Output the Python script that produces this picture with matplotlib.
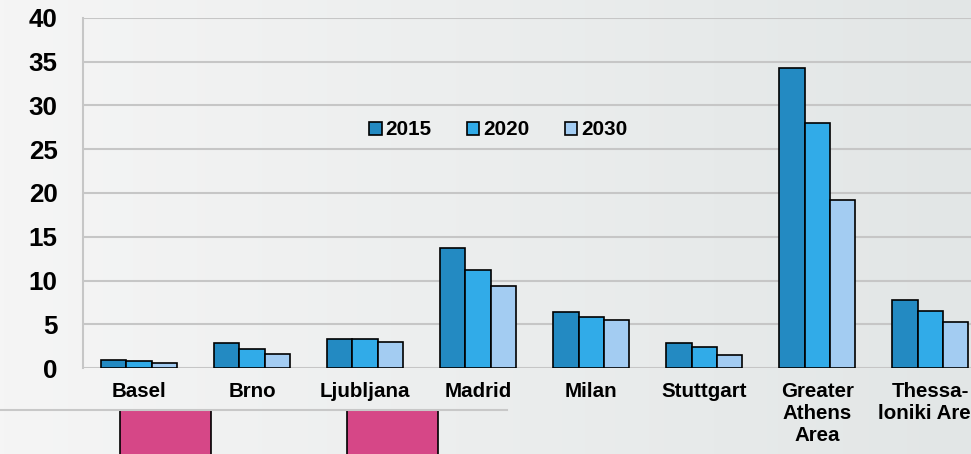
import numpy as np
import matplotlib
matplotlib.use('Agg')
import matplotlib.pyplot as plt
from matplotlib.patches import Patch, Rectangle
from matplotlib.lines import Line2D

plt.rcParams['font.family'] = ['Liberation Sans', 'DejaVu Sans']
plt.rcParams['font.weight'] = 'bold'

# data
cities = ['Basel', 'Brno', 'Ljubljana', 'Madrid', 'Milan', 'Stuttgart',
          'Greater\nAthens\nArea', 'Thessa-\nloniki Area']
years = ['2015', '2020', '2030']
v2015 = [0.9, 2.9, 3.35, 13.7, 6.4, 2.9, 34.3, 7.8]
v2020 = [0.85, 2.25, 3.3, 11.2, 5.8, 2.45, 28.0, 6.5]
v2030 = [0.65, 1.6, 3.05, 9.35, 5.55, 1.55, 19.2, 5.25]
y_ticks = [0, 5, 10, 15, 20, 25, 30, 35, 40]

colors = ['#238ac2', '#31abe8', '#a3ccf2']

fig = plt.figure(figsize=(9.71, 4.54), dpi=100)

# slide background gradient
bg = fig.add_axes([0, 0, 1, 1], zorder=-10)
grad = np.linspace(0, 1, 256).reshape(1, -1)
c0 = np.array([0xf5, 0xf5, 0xf5]) / 255
c1 = np.array([0xe2, 0xe6, 0xe6]) / 255
img = c0[None, None, :] * (1 - grad[..., None]) + c1[None, None, :] * grad[..., None]
bg.imshow(img, aspect='auto', extent=[0, 1, 0, 1])
bg.set_axis_off()

# slide decoration below the chart
fig.add_artist(Line2D([0, 507 / 971], [1 - 410 / 454, 1 - 410 / 454],
                      color='#c8c8c8', lw=1.5, transform=fig.transFigure))
for x0 in [120, 347]:
    fig.add_artist(Rectangle((x0 / 971, -0.05), 91 / 971, 0.05 + 44 / 454,
                             transform=fig.transFigure, facecolor='#d64787',
                             edgecolor='black', lw=1.2))

ax = fig.add_axes([82.5 / 971, 85.7 / 454, 904.3 / 971, 350.6 / 454])
ax.set_facecolor('none')

x = np.arange(len(cities))
w = 0.224
for i, vals in enumerate([v2015, v2020, v2030]):
    ax.bar(x + (i - 1) * w, vals, w, color=colors[i], edgecolor='black',
           linewidth=1.2, zorder=3, label=years[i])

ax.set_xlim(-0.5, len(cities) - 0.5)
ax.set_ylim(0, 40)
ax.set_yticks(y_ticks)
ax.set_xticks(x)
ax.set_xticklabels(cities, fontsize=14.8, fontweight='bold', linespacing=1.2)
ax.tick_params(axis='y', length=0, pad=18, labelsize=18.7)
ax.tick_params(axis='x', length=0, pad=10)
for lab in ax.get_yticklabels():
    lab.set_fontweight('bold')

ax.grid(axis='y', color='#c6c6c6', lw=1.5, zorder=0)
for s in ['top', 'right', 'bottom']:
    ax.spines[s].set_visible(False)
ax.spines['left'].set_color('#c6c6c6')
ax.spines['left'].set_linewidth(1.5)

handles = [Patch(facecolor=colors[i], edgecolor='black', lw=1.2) for i in range(3)]
ax.legend(handles, years, loc='center', bbox_to_anchor=(0.46, 0.68), ncol=3,
          frameon=False, prop={'size': 14.9, 'weight': 'bold'},
          handlelength=0.6, handleheight=0.6, handletextpad=0.2,
          columnspacing=1.7)

fig.savefig('out.png', dpi=100)
